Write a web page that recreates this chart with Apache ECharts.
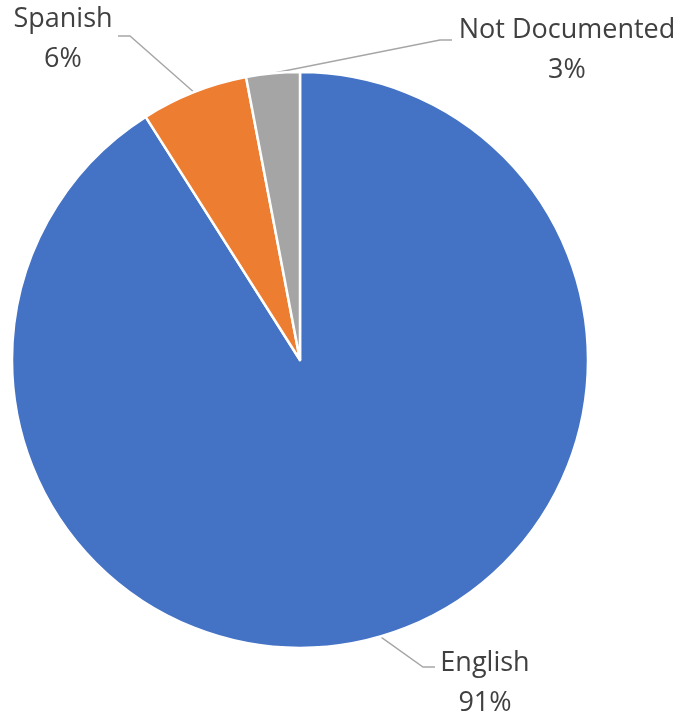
<!DOCTYPE html>
<html>
<head>
<meta charset="utf-8">
<style>
  html, body { margin: 0; padding: 0; background: #ffffff; }
  #chart { width: 684px; height: 721px; }
</style>
<script src="https://cdn.jsdelivr.net/npm/echarts@6/dist/echarts.min.js"></script>
</head>
<body>
<div id="chart"></div>
<script>
// Language of documents
const categories = ['English', 'Spanish', 'Not Documented'];
const shares = [91, 6, 3];           // percent
const sliceColors = ['#4472C4', '#ED7D31', '#A5A5A5'];

// Label placement: text-block centre plus leader-line elbow and end
const labelSpots = {
  'English':        { x: 485, y: 683, elbow: [423, 667], end: [435, 667] },
  'Spanish':        { x: 63,  y: 39,  elbow: [130, 36],  end: [118, 36] },
  'Not Documented': { x: 567, y: 50,  elbow: [440, 40],  end: [452, 40] }
};

const chart = echarts.init(document.getElementById('chart'), null, { renderer: 'canvas' });

chart.setOption({
  animation: false,
  backgroundColor: '#ffffff',
  series: [{
    type: 'pie',
    center: [300, 360],
    radius: 288,
    startAngle: 90,
    clockwise: true,
    avoidLabelOverlap: false,
    data: categories.map((name, i) => ({
      name: name,
      value: shares[i],
      itemStyle: { color: sliceColors[i] }
    })),
    itemStyle: { borderColor: '#ffffff', borderWidth: 2.5 },
    label: {
      show: true,
      position: 'outside',
      formatter: p => p.name + '\n' + p.value + '%',
      fontFamily: '"Open Sans", sans-serif',
      fontSize: 27,
      lineHeight: 40,
      color: '#404040',
      align: 'center'
    },
    labelLine: {
      show: true,
      lineStyle: { color: '#A6A6A6', width: 1.4 }
    },
    labelLayout: function (params) {
      const name = categories[params.dataIndex];
      const spot = labelSpots[name];
      const start = params.labelLinePoints ? params.labelLinePoints[0] : spot.elbow;
      return {
        x: spot.x,
        y: spot.y,
        align: 'center',
        verticalAlign: 'middle',
        labelLinePoints: [start, spot.elbow, spot.end]
      };
    }
  }]
});
</script>
</body>
</html>
